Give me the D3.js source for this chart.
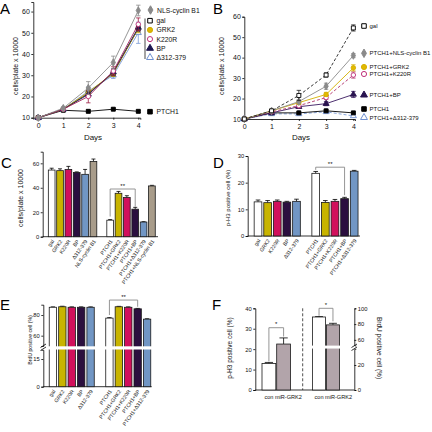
<!DOCTYPE html>
<html><head><meta charset="utf-8">
<script src="https://cdn.jsdelivr.net/npm/d3@7"></script>
<style>html,body{margin:0;padding:0;background:#fff;}svg{display:block;}</style>
</head><body>
<svg id="c" width="432" height="432"></svg>
<script>
// ================= DATA =================
const days = [0, 1, 2, 3, 4];
// Panel A (cells/plate x 10000)
const aNLS    = [10, 14.5, 24, 36, 60.5];
const aNLSe   = [0, 0.6, 3, 3, 2.5];
const aGal    = [10, 14, 21.5, 31, 52];
const aGale   = [0, 0.5, 1.5, 1.5, 1.5];
const aGRK2   = [10, 14, 22, 31, 52];
const aGRK2e  = [0, 0.5, 2, 1.5, 2];
const aK220R  = [10, 14, 20, 32, 54];
const aK220Re = [0, 0.5, 3, 2, 3];
const aBP     = [10, 14, 21, 31.5, 52.5];
const aBPe    = [0, 0.5, 1.5, 1.5, 1.5];
const aDel    = [10, 14, 22.5, 30, 50];
const aDele   = [0, 0.5, 2, 1.5, 5];
const aPTCH1  = [10, 13.5, 13, 14, 13];
const aPTCH1e = [0, 0.5, 0.6, 0.5, 0.5];
// Panel B
const bGal    = [10, 14, 21.5, 31.5, 54.5];
const bGale   = [0, 0.5, 2.5, 1, 1.5];
const bNLS    = [10, 14, 18.5, 26, 41];
const bNLSe   = [0, 0.5, 1, 1.5, 1];
const bGRK2   = [10, 14, 18, 22, 35];
const bGRK2e  = [0, 0.5, 0.8, 1, 1.5];
const bK220R  = [10, 13.5, 16.5, 20.5, 31.5];
const bK220Re = [0, 0.5, 1, 1, 1.5];
const bBP     = [10, 13, 16, 17.5, 22];
const bBPe    = [0, 0.3, 0.5, 1, 1.5];
const bPTCH1  = [10, 13, 13, 14, 13];
const bPTCH1e = [0, 0.3, 0.5, 0.5, 0.5];
const bDel    = [10, 12.5, 12.5, 13.5, 11.5];
const bDele   = [0, 0.5, 0.5, 0.5, 0.5];
// Panel C
const cLabels = ["gal","GRK2","K220R","BP","Δ312-379","NLS-cyclin B1",
                 "PTCH1","PTCH1+GRK2","PTCH1+K220R","PTCH1+BP","PTCH1+Δ312-379","PTCH1+NLS-cyclin B1"];
const cValues = [54.5, 54, 55, 52.5, 51, 61.5, 13.5, 35.5, 32, 22.5, 12, 41.5];
const cErrors = [1.5, 1.5, 2.5, 0.5, 4, 2, 0.5, 1.5, 1.5, 1.5, 0.3, 0.5];
const cTicks  = [0, 20, 40, 60];
// Panel D
const dLabels = ["gal","GRK2","K220R","BP","Δ312-379",
                 "PTCH1","PTCH1+GRK2","PTCH1+K220R","PTCH1+BP","PTCH1+Δ312-379"];
const dValues = [12.8, 12.5, 13, 12.7, 13, 23.5, 12.6, 13, 14, 24.3];
const dErrors = [0.7, 0.8, 0.5, 0.3, 0.8, 0.7, 0.7, 0.7, 0.5, 0.3];
const dTicks  = [0, 10, 20, 30];
// Panel E
const eLabels = dLabels;
const eValues = [87.5, 88, 87.5, 87.5, 87.5, 77, 88, 87.5, 86, 76];
const eErrors = [0.4, 0.5, 0.4, 0.4, 0.4, 0.5, 0.4, 0.4, 0.4, 0.4];
const eTicksLow = [0, 15];
const eTicksHigh = [60, 80];
// Panel F
const fLabels = ["con", "miR-GRK2"];
const fPH3 = [13, 22.5];
const fPH3e = [0.5, 3];
const fBrdU = [89, 79];
const fBrdUe = [0.5, 2];
const fTicksLeft = [0, 10, 20, 30, 40];
const fTicksRightLow = [0, 20];
const fTicksRightHigh = [60, 80, 100];

// ================= HELPERS =================
const FONT = "'Liberation Sans', Arial, Helvetica, sans-serif";
const svg = d3.select("#c").attr("font-family", FONT);
const barColors = ["#ffffff", "#c8b400", "#d1105c", "#2b0f3f", "#7196c4", "#a89c8a"];

function styleAxis(g, fs) {
  g.selectAll("path,line").attr("stroke", "#000").attr("stroke-width", 0.8);
  g.selectAll("text").attr("font-size", fs).attr("fill", "#111").attr("font-family", FONT);
}
function panelLetter(x, y, t) {
  svg.append("text").attr("x", x).attr("y", y).attr("font-size", 15).attr("fill", "#000").text(t);
}
function yTitle(x, y, t, fs, rot = -90) {
  svg.append("text").attr("transform", `translate(${x},${y}) rotate(${rot})`)
    .attr("text-anchor", "middle").attr("dominant-baseline", "central")
    .attr("font-size", fs).attr("fill", "#111").text(t);
}
function lineSeries(g, x, y, s) {
  const line = d3.line().x((d, i) => x(days[i])).y(d => y(d));
  g.append("path").datum(s.v).attr("d", line).attr("fill", "none")
    .attr("stroke", s.line).attr("stroke-width", s.lw || 0.9)
    .attr("stroke-dasharray", s.dash || null);
  s.v.forEach((v, i) => {
    const e = s.e[i]; if (!e) return;
    const cx = x(days[i]), yt = y(v + e), yb = y(v - e);
    const ec = s.ecol || s.line;
    g.append("line").attr("x1", cx).attr("x2", cx).attr("y1", yt).attr("y2", yb).attr("stroke", ec).attr("stroke-width", 0.8);
    [yt, yb].forEach(yy => g.append("line").attr("x1", cx - 2.2).attr("x2", cx + 2.2).attr("y1", yy).attr("y2", yy).attr("stroke", ec).attr("stroke-width", 0.8));
  });
  g.selectAll(null).data(s.v).join("path")
    .attr("transform", (d, i) => `translate(${x(days[i])},${y(d)})`)
    .attr("d", d3.symbol(s.sym, s.size || 16))
    .attr("fill", s.fill).attr("stroke", s.stroke).attr("stroke-width", 0.9);
}
function legendItem(g, mx, tx, yy, s, label, fs) {
  g.append("path").attr("transform", `translate(${mx},${yy})`)
    .attr("d", d3.symbol(s.sym, (s.size || 16) * 1.3))
    .attr("fill", s.fill).attr("stroke", s.stroke).attr("stroke-width", 1);
  g.append("text").attr("x", tx).attr("y", yy).attr("dominant-baseline", "central")
    .attr("font-size", fs).attr("fill", "#111").text(label);
}
function rotLabels(g, x, bw, y0, labels, fs) {
  labels.forEach(l => {
    const cx = x(l) + bw / 2 + 1;
    g.append("text").attr("transform", `translate(${cx},${y0 + 3.5}) rotate(-55)`)
      .attr("text-anchor", "end").attr("dominant-baseline", "central")
      .attr("font-size", fs).attr("fill", "#111").text(l);
  });
}
function bars(g, x, y, labels, values, errors, colorOf, base) {
  const bw = x.bandwidth();
  labels.forEach((l, i) => {
    const v = values[i], e = errors[i];
    const cx = x(l) + bw / 2;
    g.append("line").attr("x1", cx).attr("x2", cx).attr("y1", y(v)).attr("y2", y(v + e)).attr("stroke", "#000").attr("stroke-width", 0.8);
    g.append("line").attr("x1", cx - bw * 0.3).attr("x2", cx + bw * 0.3).attr("y1", y(v + e)).attr("y2", y(v + e)).attr("stroke", "#000").attr("stroke-width", 0.8);
    g.append("rect").attr("x", x(l)).attr("width", bw).attr("y", y(v)).attr("height", y(base) - y(v))
      .attr("fill", colorOf(i)).attr("stroke", "#1a1a1a").attr("stroke-width", 0.8);
  });
}
function bracket(g, x1, x2, yTop, yL, yR, star, fs) {
  g.append("path").attr("d", `M${x1},${yL}V${yTop}H${x2}V${yR}`).attr("fill", "none")
    .attr("stroke", "#8a8a8a").attr("stroke-width", 0.9);
  g.append("text").attr("x", (x1 + x2) / 2).attr("y", yTop - 1.5).attr("text-anchor", "middle")
    .attr("font-size", fs).attr("fill", "#111").text(star);
}

// ================= PANEL A =================
{
  const g = svg.append("g");
  const x = d3.scaleLinear().domain([-0.2, 4.08]).range([33.3, 140.3]);
  const y = d3.scaleLinear().domain([10, 64.5]).range([117.7, 2]);
  styleAxis(g.append("g").attr("transform", `translate(${x.range()[0]},0)`)
    .call(d3.axisLeft(y).tickValues([10, 20, 30, 40, 50, 60]).tickSize(2).tickPadding(1.5)), 7);
  styleAxis(g.append("g").attr("transform", `translate(0,${y(10)})`)
    .call(d3.axisBottom(x).tickValues(days).tickFormat(d3.format("d")).tickSize(2).tickPadding(3)), 7);
  const S = {
    PTCH1: {v: aPTCH1, e: aPTCH1e, line: "#000", sym: d3.symbolSquare, fill: "#000", stroke: "#000"},
    Del:   {v: aDel, e: aDele, line: "#7a9ad6", sym: d3.symbolTriangle, fill: "#fff", stroke: "#6f90d0"},
    BP:    {v: aBP, e: aBPe, line: "#1c1650", sym: d3.symbolTriangle, fill: "#1c1650", stroke: "#1c1650"},
    GRK2:  {v: aGRK2, e: aGRK2e, line: "#c9a800", sym: d3.symbolCircle, fill: "#e0b800", stroke: "#d0aa00"},
    gal:   {v: aGal, e: aGale, line: "#222", sym: d3.symbolSquare, fill: "#fff", stroke: "#000"},
    K220R: {v: aK220R, e: aK220Re, line: "#a0285a", ecol: "#9a1a40", sym: d3.symbolCircle, fill: "#fff", stroke: "#c0307a"},
    NLS:   {v: aNLS, e: aNLSe, line: "#8a8a8a", sym: d3.symbolDiamond, fill: "#8a8a8a", stroke: "#8a8a8a"}
  };
  ["PTCH1", "Del", "gal", "GRK2", "BP", "K220R", "NLS"].forEach(k => lineSeries(g, x, y, S[k]));
  svg.append("text").attr("x", 93).attr("y", 140).attr("text-anchor", "middle").attr("font-size", 8).attr("fill", "#111").text("Days");
  yTitle(15, 66, "cells/plate x 10000", 7);
  const L = svg.append("g");
  legendItem(L, 150.5, 157, 10, S.NLS, "NLS-cyclin B1", 6.8);
  L.append("line").attr("x1", 145).attr("x2", 145).attr("y1", 18.5).attr("y2", 59).attr("stroke", "#333").attr("stroke-width", 0.9);
  legendItem(L, 150, 156.5, 20.7, S.gal, "gal", 6.8);
  legendItem(L, 150, 156.5, 29.9, S.GRK2, "GRK2", 6.8);
  legendItem(L, 150, 156.5, 39.1, S.K220R, "K220R", 6.8);
  legendItem(L, 150, 156.5, 48.3, S.BP, "BP", 6.8);
  legendItem(L, 150, 156.5, 57.5, S.Del, "Δ312-379", 6.8);
  legendItem(L, 150, 156.5, 111.7, S.PTCH1, "PTCH1", 6.8);
  panelLetter(0, 14, "A");
}

// ================= PANEL B =================
{
  const g = svg.append("g");
  const x = d3.scaleLinear().domain([0, 4.06]).range([244.3, 355]);
  const y = d3.scaleLinear().domain([10, 60]).range([119, 16.7]);
  styleAxis(g.append("g").attr("transform", `translate(${x.range()[0]},0)`)
    .call(d3.axisLeft(y).tickValues([10, 20, 30, 40, 50, 60]).tickSize(2).tickPadding(1.5)), 7);
  styleAxis(g.append("g").attr("transform", `translate(0,${y(10)})`)
    .call(d3.axisBottom(x).tickValues(days).tickFormat(d3.format("d")).tickSize(2).tickPadding(3)), 7);
  const S = {
    gal:   {v: bGal, e: bGale, line: "#222", dash: "3,2", sym: d3.symbolSquare, fill: "#fff", stroke: "#000"},
    NLS:   {v: bNLS, e: bNLSe, line: "#8a8a8a", sym: d3.symbolDiamond, fill: "#8a8a8a", stroke: "#8a8a8a"},
    GRK2:  {v: bGRK2, e: bGRK2e, line: "#d4b000", sym: d3.symbolCircle, fill: "#e3b800", stroke: "#d4b000"},
    K220R: {v: bK220R, e: bK220Re, line: "#b0306a", dash: "3,2", sym: d3.symbolCircle, fill: "#fff", stroke: "#c0307a"},
    BP:    {v: bBP, e: bBPe, line: "#3a1a60", sym: d3.symbolTriangle, fill: "#2a1450", stroke: "#2a1450"},
    PTCH1: {v: bPTCH1, e: bPTCH1e, line: "#000", sym: d3.symbolSquare, fill: "#000", stroke: "#000"},
    Del:   {v: bDel, e: bDele, line: "#7a9ad6", dash: "3,2", sym: d3.symbolTriangle, fill: "#fff", stroke: "#6f90d0"}
  };
  ["Del", "PTCH1", "BP", "K220R", "GRK2", "NLS", "gal"].forEach(k => lineSeries(g, x, y, S[k]));
  svg.append("text").attr("x", 301).attr("y", 140).attr("text-anchor", "middle").attr("font-size", 8).attr("fill", "#111").text("Days");
  yTitle(221, 66, "cells/plate x 10000", 7);
  const L = svg.append("g");
  legendItem(L, 364, 369.5, 26, S.gal, "gal", 6);
  legendItem(L, 364, 369.5, 53.3, S.NLS, "PTCH1+NLS-cyclin B1", 6);
  legendItem(L, 364, 369.5, 67, S.GRK2, "PTCH1+GRK2", 6);
  legendItem(L, 364, 369.5, 74, S.K220R, "PTCH1+K220R", 6);
  legendItem(L, 364, 369.5, 95, S.BP, "PTCH1+BP", 6);
  legendItem(L, 364, 369.5, 109, S.PTCH1, "PTCH1", 6);
  legendItem(L, 364, 369.5, 117.5, S.Del, "PTCH1+Δ312-379", 6);
  panelLetter(213, 14, "B");
}

// ================= PANEL C =================
{
  const g = svg.append("g");
  const dom = [...cLabels.slice(0, 6), "_gap", ...cLabels.slice(6)];
  const x = d3.scaleBand().domain(dom).range([47.5, 156.1]).paddingInner(0.2).paddingOuter(0.1);
  const y = d3.scaleLinear().domain([0, 69.5]).range([236.7, 151.7]);
  styleAxis(g.append("g").attr("transform", `translate(42.7,0)`)
    .call(d3.axisLeft(y).tickValues(cTicks).tickSize(2).tickPadding(1.5)), 5.8);
  g.append("line").attr("x1", 42.7).attr("x2", 158).attr("y1", y(0)).attr("y2", y(0)).attr("stroke", "#000").attr("stroke-width", 0.8);
  bars(g, x, y, cLabels, cValues, cErrors, i => barColors[i % 6], 0);
  rotLabels(g, x, x.bandwidth(), y(0), cLabels, 5.2);
  const bw = x.bandwidth();
  bracket(g, x("PTCH1") + bw / 2, x("PTCH1+BP") + bw / 2, y(39), y(16.5), y(24.5), "**", 6);
  yTitle(20, 198, "cells/plate x 10000", 7);
  panelLetter(1, 168, "C");
}

// ================= PANEL D =================
{
  const g = svg.append("g");
  const dom = [...dLabels.slice(0, 5), "_gap", ...dLabels.slice(5)];
  const x = d3.scaleBand().domain(dom).range([253.2, 359]).paddingInner(0.2).paddingOuter(0.1);
  const y = d3.scaleLinear().domain([0, 30]).range([236, 156]);
  styleAxis(g.append("g").attr("transform", `translate(247.7,0)`)
    .call(d3.axisLeft(y).tickValues(dTicks).tickSize(2).tickPadding(1.5)), 5.8);
  g.append("line").attr("x1", 247.7).attr("x2", 360).attr("y1", y(0)).attr("y2", y(0)).attr("stroke", "#000").attr("stroke-width", 0.8);
  bars(g, x, y, dLabels, dValues, dErrors, i => barColors[i % 5], 0);
  rotLabels(g, x, x.bandwidth(), y(0), dLabels, 5.2);
  const bw = x.bandwidth();
  bracket(g, x("PTCH1") + bw / 2, x("PTCH1+BP") + bw / 2, y(25.8), y(24.8), y(15.3), "**", 6);
  yTitle(227.7, 198, "p-H3 positive cell (%)", 6);
  panelLetter(213, 168, "D");
}

// ================= PANEL E =================
{
  const g = svg.append("g");
  const dom = [...eLabels.slice(0, 5), "_gap", ...eLabels.slice(5)];
  const x = d3.scaleBand().domain(dom).range([48.3, 151.7]).paddingInner(0.22).paddingOuter(0.1);
  const yLow = d3.scaleLinear().domain([0, 20]).range([386.7, 349.8]);
  const yHigh = d3.scaleLinear().domain([50, 90]).range([346, 304.7]);
  const y = v => v > 35 ? yHigh(v) : yLow(v);
  styleAxis(g.append("g").attr("transform", `translate(43.3,0)`)
    .call(d3.axisLeft(yLow).tickValues(eTicksLow).tickSize(2).tickPadding(1.5)), 5.8);
  styleAxis(g.append("g").attr("transform", `translate(43.3,0)`)
    .call(d3.axisLeft(yHigh).tickValues(eTicksHigh).tickSize(2).tickPadding(1.5)), 5.8);
  g.append("line").attr("x1", 43.3).attr("x2", 151.7).attr("y1", y(0)).attr("y2", y(0)).attr("stroke", "#000").attr("stroke-width", 0.8);
  bars(g, x, y, eLabels, eValues, eErrors, i => barColors[i % 5], 0);
  g.append("rect").attr("x", 44.5).attr("y", yHigh(50) + 0.3).attr("width", 108).attr("height", yLow(20) - yHigh(50) - 0.6).attr("fill", "#fff");
  [0, 3].forEach(o => g.append("line").attr("x1", 40.5).attr("x2", 46).attr("y1", 347.5 + o).attr("y2", 344 + o).attr("stroke", "#000").attr("stroke-width", 0.8));
  rotLabels(g, x, x.bandwidth(), y(0), eLabels, 5.2);
  const bw = x.bandwidth();
  bracket(g, x("PTCH1") + bw / 2, x("PTCH1+BP") + bw / 2, y(94.5), y(80), y(88), "**", 6);
  yTitle(30, 340, "BrdU positive cell (%)", 5.2);
  panelLetter(0, 310, "E");
}

// ================= PANEL F =================
{
  const g = svg.append("g");
  const xL = d3.scaleBand().domain(fLabels).range([262, 290.5]).paddingInner(0.06);
  const xR = d3.scaleBand().domain(fLabels).range([312.5, 339.5]).paddingInner(0.06);
  const yL = d3.scaleLinear().domain([0, 40]).range([390, 308.3]);
  const yRLow = d3.scaleLinear().domain([0, 33]).range([390, 348.75]);
  const yRHigh = d3.scaleLinear().domain([53, 100]).range([345.4, 308.3]);
  const yR = v => v > 43 ? yRHigh(v) : yRLow(v);
  const fColors = ["#ffffff", "#b2a4aa"];
  styleAxis(g.append("g").attr("transform", `translate(255.3,0)`)
    .call(d3.axisLeft(yL).tickValues(fTicksLeft).tickSize(2).tickPadding(1.5)), 5.8);
  styleAxis(g.append("g").attr("transform", `translate(354.3,0)`)
    .call(d3.axisRight(yRLow).tickValues(fTicksRightLow).tickSize(2).tickPadding(1.5)), 5.8);
  styleAxis(g.append("g").attr("transform", `translate(354.3,0)`)
    .call(d3.axisRight(yRHigh).tickValues(fTicksRightHigh).tickSize(2).tickPadding(1.5)), 5.8);
  g.append("line").attr("x1", 255.3).attr("x2", 354.3).attr("y1", 390).attr("y2", 390).attr("stroke", "#000").attr("stroke-width", 0.8);
  g.append("line").attr("x1", 302.7).attr("x2", 302.7).attr("y1", 308.3).attr("y2", 390).attr("stroke", "#222").attr("stroke-width", 0.8).attr("stroke-dasharray", "3,2");
  bars(g, xL, yL, fLabels, fPH3, fPH3e, i => fColors[i], 0);
  bars(g, xR, yR, fLabels, fBrdU, fBrdUe, i => fColors[i], 0);
  g.append("rect").attr("x", 311).attr("y", yRHigh(53) + 0.2).attr("width", 30).attr("height", yRLow(33) - yRHigh(53) - 0.4).attr("fill", "#fff");
  [0, 3].forEach(o => g.append("line").attr("x1", 351.5).attr("x2", 357).attr("y1", 347.5 + o).attr("y2", 344 + o).attr("stroke", "#000").attr("stroke-width", 0.8));
  const bwL = xL.bandwidth(), bwR = xR.bandwidth();
  bracket(g, xL("con") + bwL / 2, xL("miR-GRK2") + bwL / 2, yL(30.5), yL(14), yL(26.2), "*", 6);
  bracket(g, xR("con") + bwR / 2, xR("miR-GRK2") + bwR / 2, yR(100), yR(90.5), yR(83.5), "*", 6);
  [[xL, bwL], [xR, bwR]].forEach(([xx, bw]) => {
    g.append("text").attr("x", xx("con") + bw / 2).attr("y", 397).attr("text-anchor", "middle")
      .attr("dominant-baseline", "central").attr("font-size", 5.6).attr("fill", "#111").text(fLabels[0]);
    g.append("text").attr("x", xx("con") + bw / 2 + 6).attr("y", 397).attr("text-anchor", "start")
      .attr("dominant-baseline", "central").attr("font-size", 5.6).attr("fill", "#111").text(fLabels[1]);
  });
  yTitle(229.3, 348, "p-H3 positive cell (%)", 6.5);
  yTitle(379.3, 348, "BrdU positive cell (%)", 6.5, 90);
  panelLetter(212, 310, "F");
}
</script>
</body></html>
